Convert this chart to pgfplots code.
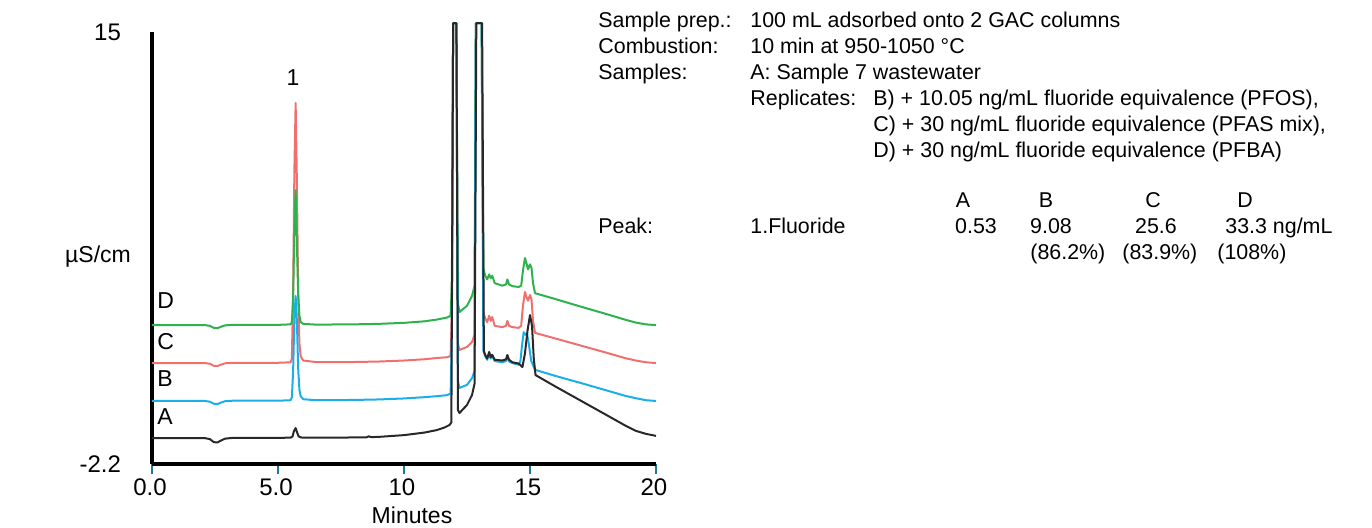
\documentclass[border=0pt]{standalone}
\usepackage{fontspec}
\setmainfont{Liberation Sans}
\usepackage{pgfplots}
\pgfplotsset{compat=1.18}
\definecolor{cD}{RGB}{46,178,78}
\definecolor{cC}{RGB}{240,112,112}
\definecolor{cB}{RGB}{28,174,232}
\definecolor{cA}{RGB}{40,40,40}
\definecolor{tk}{RGB}{30,120,150}
\begin{document}
\begin{tikzpicture}
\path[use as bounding box] (0,0) rectangle (686pt,263.5pt);
\begin{axis}[
  at={(76pt,31.5pt)}, anchor=south west,
  scale only axis, width=252pt, height=216pt,
  xmin=0, xmax=20, ymin=-2.2, ymax=15,
  axis x line=bottom, axis y line=left,
  axis line style={-, line width=1.6pt, black},
  every outer x axis line/.append style={-, line width=1.6pt},
  every outer y axis line/.append style={-, line width=1.6pt},
  xtick={0,5,10,15,20}, xticklabels={0.0,5.0,10,15,20},
  x tick style={tk, line width=0.9pt},
  tick align=outside, major tick length=5pt,
  ytick={-2.2,15}, yticklabels={-2.2,15},
  y tick style={draw=none},
  yticklabel style={xshift=-7pt},
  xticklabel style={yshift=1pt, xshift=-1pt},
  tick label style={font=\fontsize{12}{14}\selectfont},
  clip=false,
  every axis plot/.append style={line width=1pt, line join=round},
]
% C (red)
\addplot[cC] coordinates {(0,1.82) (2.1,1.82) (2.3,1.79) (2.45,1.71) (2.6,1.70) (2.75,1.76) (2.9,1.81) (3.2,1.83) (5.0,1.83) (5.5,1.85) (5.55,2.0) (5.6,4.5) (5.65,9.5) (5.7,12.17) (5.75,9.0) (5.8,4.6) (5.85,2.6) (5.9,2.1) (6.0,1.92) (6.5,1.86) (8,1.86) (9,1.88) (10,1.92) (10.8,1.97) (11.3,2.02) (11.7,2.05) (11.85,2.1) (11.9,4) (11.95,15.35) (12.08,15.35) (12.14,2.6) (12.2,2.34) (12.5,2.46) (12.7,2.66) (12.8,2.95) (12.85,15.35) (13.08,15.35) (13.15,3.85) (13.22,3.6) (13.3,3.45) (13.38,3.7) (13.44,3.5) (13.5,3.65) (13.6,3.3) (13.9,3.25) (14.05,3.3) (14.1,3.5) (14.17,3.3) (14.3,3.25) (14.55,3.22) (14.65,3.3) (14.72,4.1) (14.8,4.65) (14.86,4.45) (14.92,4.3) (15.0,4.53) (15.06,4.35) (15.12,3.5) (15.2,3.02) (16,2.80) (17,2.52) (18,2.24) (18.8,2.01) (19.2,1.92) (19.6,1.85) (20,1.82)};
% D (green)
\addplot[cD] coordinates {(0,3.33) (2.1,3.33) (2.3,3.30) (2.45,3.22) (2.6,3.21) (2.75,3.27) (2.9,3.32) (3.2,3.34) (5.0,3.34) (5.5,3.36) (5.55,3.45) (5.6,4.4) (5.65,7.2) (5.7,8.7) (5.75,6.6) (5.8,4.6) (5.85,3.7) (5.9,3.45) (6.0,3.38) (6.5,3.35) (8,3.36) (9,3.38) (10,3.42) (10.8,3.48) (11.3,3.55) (11.7,3.63) (11.85,3.7) (11.9,5) (11.95,15.35) (12.08,15.35) (12.14,4.2) (12.2,3.85) (12.5,4.1) (12.7,4.5) (12.8,4.9) (12.85,15.35) (13.08,15.35) (13.15,5.6) (13.22,5.3) (13.3,5.15) (13.38,5.35) (13.44,5.2) (13.5,5.3) (13.6,5.0) (13.9,4.9) (14.05,4.95) (14.1,5.15) (14.17,4.95) (14.3,4.88) (14.55,4.85) (14.65,4.9) (14.72,5.5) (14.8,6.0) (14.86,5.8) (14.92,5.55) (15.0,5.75) (15.06,5.6) (15.12,5.0) (15.2,4.6) (16,4.37) (17,4.07) (18,3.78) (18.8,3.54) (19.2,3.43) (19.6,3.36) (20,3.33)};
% B (blue)
\addplot[cB] coordinates {(0,0.31) (2.1,0.31) (2.3,0.28) (2.45,0.20) (2.6,0.19) (2.75,0.25) (2.9,0.30) (3.2,0.32) (5.0,0.32) (5.5,0.34) (5.55,0.45) (5.6,1.5) (5.65,3.6) (5.7,4.49) (5.75,3.5) (5.8,1.6) (5.85,0.75) (5.9,0.5) (6.0,0.38) (6.5,0.34) (8,0.35) (9,0.37) (10,0.41) (10.8,0.46) (11.3,0.50) (11.7,0.54) (11.85,0.6) (11.9,3) (11.95,15.35) (12.08,15.35) (12.14,1.1) (12.2,0.83) (12.5,0.95) (12.7,1.22) (12.8,1.5) (12.85,15.35) (13.08,15.35) (13.15,2.3) (13.22,2.1) (13.3,1.95) (13.38,2.2) (13.44,2.0) (13.5,2.1) (13.6,1.9) (13.9,1.85) (14.05,1.9) (14.1,2.1) (14.17,1.88) (14.3,1.82) (14.55,1.75) (14.62,1.9) (14.68,2.5) (14.75,3.05) (14.82,2.95) (14.88,3.0) (14.95,2.6) (15.05,1.9) (15.2,1.55) (16,1.31) (17,1.03) (18,0.74) (18.8,0.51) (19.2,0.42) (19.6,0.34) (20,0.31)};
% A (black)
\addplot[cA] coordinates {(0,-1.17) (2.1,-1.17) (2.3,-1.21) (2.45,-1.33) (2.6,-1.34) (2.75,-1.26) (2.9,-1.19) (3.2,-1.16) (5.0,-1.16) (5.5,-1.15) (5.58,-1.1) (5.63,-0.9) (5.7,-0.77) (5.76,-0.95) (5.82,-1.1) (5.9,-1.14) (6.0,-1.15) (7,-1.15) (8.5,-1.14) (8.6,-1.10) (8.7,-1.13) (9,-1.12) (10,-1.05) (10.8,-0.95) (11.3,-0.85) (11.6,-0.75) (11.8,-0.65) (11.88,-0.55) (11.95,15.35) (12.08,15.35) (12.14,-0.05) (12.2,-0.17) (12.5,0.15) (12.7,0.55) (12.8,1.0) (12.87,15.35) (13.1,15.35) (13.17,2.3) (13.22,2.15) (13.3,2.0) (13.38,2.26) (13.44,2.05) (13.5,2.15) (13.6,1.95) (13.9,1.92) (14.05,1.97) (14.1,2.14) (14.17,1.95) (14.3,1.85) (14.55,1.8) (14.7,1.66) (14.8,2.2) (14.9,3.1) (15.0,3.73) (15.08,3.3) (15.15,2.0) (15.22,1.34) (16,0.89) (17,0.33) (18,-0.23) (18.8,-0.68) (19.2,-0.88) (19.6,-1.0) (20,-1.08)};
\end{axis}
\begin{scope}[x=0.5pt,y=-0.5pt,yshift=263.5pt,every node/.style={inner sep=0pt,font=\fontsize{11.5}{13}\selectfont}]
\node[anchor=base] at (293,85) {1};
\node[anchor=base west] at (157,308) {D};
\node[anchor=base west] at (157,349) {C};
\node[anchor=base west] at (157,386) {B};
\node[anchor=base west] at (157,424) {A};
\node[anchor=base] at (98,262) {µS/cm};
\node[anchor=base] at (412,523) {Minutes};
\end{scope}
\begin{scope}[x=0.5pt,y=-0.5pt,yshift=263.5pt,every node/.style={inner sep=0pt,font=\fontsize{10.7}{13}\selectfont}]
\node[anchor=base west] at (598,27.5) {Sample prep.:};
\node[anchor=base west] at (750,27.5) {100 mL adsorbed onto 2 GAC columns};
\node[anchor=base west] at (598,53) {Combustion:};
\node[anchor=base west] at (750,53) {10 min at 950-1050 °C};
\node[anchor=base west] at (598,79.5) {Samples:};
\node[anchor=base west] at (750,79.5) {A: Sample 7 wastewater};
\node[anchor=base west] at (750,105.5) {Replicates:};
\node[anchor=base west] at (873,105.5) {B) + 10.05 ng/mL fluoride equivalence (PFOS),};
\node[anchor=base west] at (873,131.5) {C) + 30 ng/mL fluoride equivalence (PFAS mix),};
\node[anchor=base west] at (873,157.5) {D) + 30 ng/mL fluoride equivalence (PFBA)};
\node[anchor=base] at (963,207.5) {A};
\node[anchor=base] at (1046,207.5) {B};
\node[anchor=base] at (1153,207.5) {C};
\node[anchor=base] at (1245,207.5) {D};
\node[anchor=base west] at (598,233.5) {Peak:};
\node[anchor=base west] at (750,233.5) {1.Fluoride};
\node[anchor=base] at (976,233.5) {0.53};
\node[anchor=base] at (1051,233.5) {9.08};
\node[anchor=base] at (1156,233.5) {25.6};
\node[anchor=base west] at (1225,233.5) {33.3 ng/mL};
\node[anchor=base west] at (1030,259.5) {(86.2\%)};
\node[anchor=base west] at (1122,259.5) {(83.9\%)};
\node[anchor=base west] at (1217,259.5) {(108\%)};
\end{scope}
\end{tikzpicture}
\end{document}
